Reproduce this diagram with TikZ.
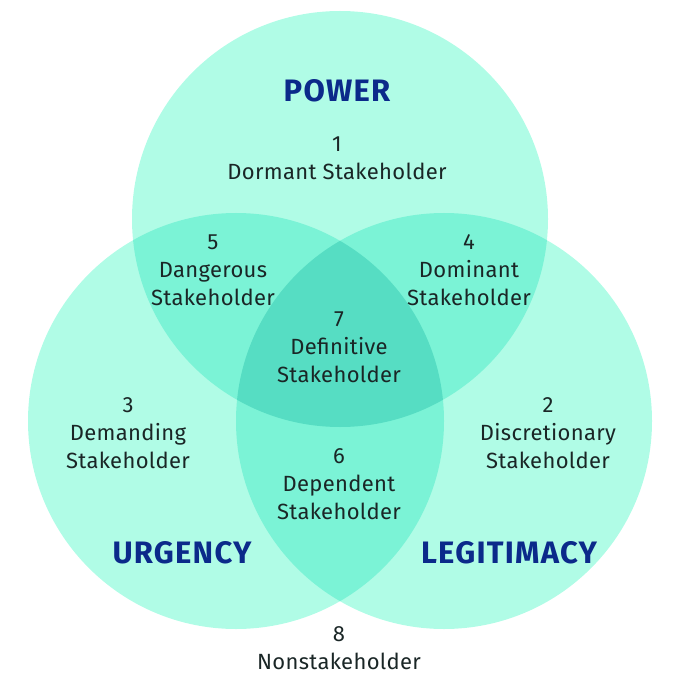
\documentclass[tikz,border=0pt]{standalone}
\usepackage{fontspec}
\setmainfont{Fira Sans}
\definecolor{one}{HTML}{B0FCE6}
\definecolor{two}{HTML}{7BF3D6}
\definecolor{three}{HTML}{56DDC3}
\definecolor{titleblue}{HTML}{0B2A8A}
\definecolor{labeltext}{HTML}{1A2626}
\begin{document}
\begin{tikzpicture}[x=1pt,y=-1pt,
  lbl/.style={align=center,text=labeltext,font=\fontsize{22}{27.8}\selectfont\addfontfeatures{LetterSpace=1.5},inner sep=0pt},
  ttl/.style={text=titleblue,font=\fontsize{31}{34}\selectfont\bfseries\addfontfeatures{LetterSpace=4},inner sep=0pt}]
\useasboundingbox (0,0) rectangle (678,684);
\def\R{208}
\coordinate (P) at (340,219);
\coordinate (U) at (236,421);
\coordinate (L) at (444,421);
% single circles
\fill[one] (P) circle (\R);
\fill[one] (U) circle (\R);
\fill[one] (L) circle (\R);
% pairwise overlaps
\begin{scope}\clip (P) circle (\R); \fill[two] (U) circle (\R); \end{scope}
\begin{scope}\clip (P) circle (\R); \fill[two] (L) circle (\R); \end{scope}
\begin{scope}\clip (U) circle (\R); \fill[two] (L) circle (\R); \end{scope}
% triple
\begin{scope}\clip (P) circle (\R); \clip (U) circle (\R); \fill[three] (L) circle (\R); \end{scope}
% titles
\node[ttl] (power) at (337,91) {POWER};
\node[ttl] (urgency) at (182,553) {URGENCY};
\node[ttl] (legit) at (509,553) {LEGITIMACY};
% labels
\node[lbl] (n1) at (337,158) {1\\Dormant Stakeholder};
\node[lbl] (n5) at (213,270) {5\\Dangerous\\Stakeholder};
\node[lbl] (n4) at (469,270) {4\\Dominant\\Stakeholder};
\node[lbl] (n7) at (339,347) {7\\Definitive\\Stakeholder};
\node[lbl] (n3) at (128,433) {3\\Demanding\\Stakeholder};
\node[lbl] (n2) at (548,433) {2\\Discretionary\\Stakeholder};
\node[lbl] (n6) at (339,484) {6\\Dependent\\Stakeholder};
\node[lbl] (n8) at (339,648) {8\\Nonstakeholder};
\end{tikzpicture}
\end{document}
